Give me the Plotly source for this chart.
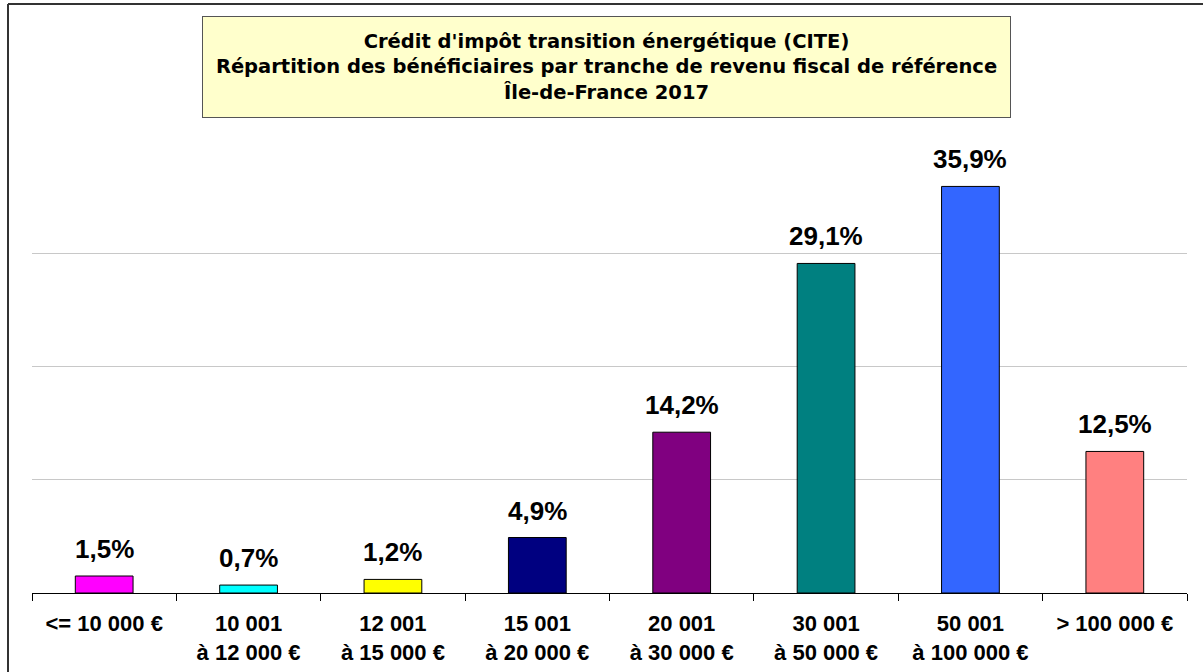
import plotly.graph_objects as go

categories = ["<= 10 000 €", "10 001<br>à 12 000 €", "12 001<br>à 15 000 €", "15 001<br>à 20 000 €",
              "20 001<br>à 30 000 €", "30 001<br>à 50 000 €", "50 001<br>à 100 000 €", "> 100 000 €"]
values = [1.5, 0.7, 1.2, 4.9, 14.2, 29.1, 35.9, 12.5]
value_labels = ["1,5%", "0,7%", "1,2%", "4,9%", "14,2%", "29,1%", "35,9%", "12,5%"]
bar_colors = ["#FF00FF", "#00FFFF", "#FFFF00", "#000080", "#800080", "#008080", "#3366FF", "#FF8080"]
grid_values = [10, 20, 30]
title_lines = ["Crédit d'impôt transition énergétique (CITE)",
               "Répartition des bénéficiaires par tranche de revenu fiscal de référence",
               "Île-de-France 2017"]

W, H = 1203, 672
L, R, T, B = 32, 16, 140, 79
pw, ph = W - L - R, H - T - B
YMAX = 40

def px_x(px):
    return (px - L) / pw

def px_y(py):
    return (H - B - py) / ph

FONT = "Liberation Sans, Arial, sans-serif"
TITLE_FONT = "DejaVu Sans, Liberation Sans, sans-serif"

fig = go.Figure()
fig.add_trace(go.Bar(
    x=categories, y=values,
    marker=dict(color=bar_colors, line=dict(color="#000000", width=1)),
    width=0.4, hoverinfo="skip",
))

for c, v, lab in zip(categories, values, value_labels):
    fig.add_annotation(x=c, y=v, text=f"<b>{lab}</b>", showarrow=False,
                       yanchor="bottom", yshift=10,
                       font=dict(family=FONT, size=26, color="#000000"))

fig.add_annotation(
    xref="paper", yref="paper", x=px_x(606.5), y=px_y(67),
    xanchor="center", yanchor="middle",
    text="<b>" + "<br>".join(title_lines) + "</b>",
    showarrow=False, align="center",
    width=805, height=98, bgcolor="#FFFFCC", bordercolor="#555555", borderwidth=1,
    font=dict(family=TITLE_FONT, size=19.5, color="#000000"),
)

# outer chart-area border (left and top edges; right/bottom lie outside the view)
fig.add_shape(type="line", xref="paper", yref="paper",
              x0=px_x(8), x1=px_x(8), y0=px_y(672), y1=px_y(4),
              line=dict(color="#333333", width=2), layer="above")
fig.add_shape(type="line", xref="paper", yref="paper",
              x0=px_x(8), x1=px_x(1203), y0=px_y(4), y1=px_y(4),
              line=dict(color="#333333", width=2), layer="above")

fig.update_layout(
    width=W, height=H,
    margin=dict(l=L, r=R, t=T, b=B, autoexpand=False),
    paper_bgcolor="#FFFFFF", plot_bgcolor="#FFFFFF",
    showlegend=False,
    xaxis=dict(
        type="category", tickson="boundaries", ticks="outside", ticklen=7,
        tickcolor="#000000", showline=True, linecolor="#000000", linewidth=1,
        showgrid=False, tickfont=dict(family=FONT, size=22, color="#000000"),
        tickangle=0, ticklabelstandoff=11,
        tickvals=categories, ticktext=[f"<b>{c}</b>" for c in categories],
    ),
    yaxis=dict(
        range=[0, YMAX], tickvals=grid_values, showticklabels=False,
        showgrid=True, gridcolor="#C8C8C8", gridwidth=1, zeroline=False,
        showline=False, fixedrange=True,
    ),
)

fig.write_html("out.html", config={"displayModeBar": False},
               post_script="document.body.style.margin='0';document.body.style.overflow='hidden';")
